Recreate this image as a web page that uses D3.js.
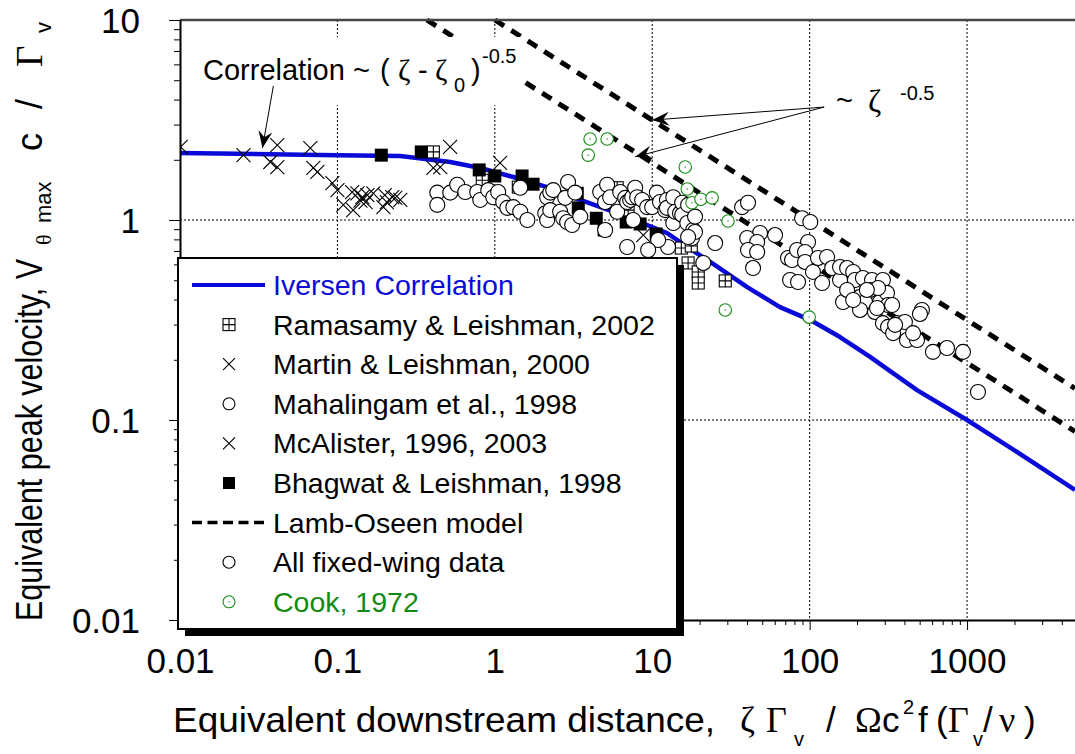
<!DOCTYPE html>
<html>
<head>
<meta charset="utf-8">
<script src="https://cdn.jsdelivr.net/npm/d3@7"></script>
<style>
body { margin: 0; background: #fff; }
svg { display: block; font-family: "Liberation Sans", Arial, sans-serif; }
.serif { font-family: "Liberation Serif", "Times New Roman", serif; }
</style>
</head>
<body>
<svg id="chart" width="1075" height="754"></svg>
<script>
// ---- data ----
var xTicks = [0.01, 0.1, 1, 10, 100, 1000];
var xTickLabels = ["0.01", "0.1", "1", "10", "100", "1000"];
var yTicks = [0.01, 0.1, 1, 10];
var yTickLabels = ["0.01", "0.1", "1", "10"];

// Iversen correlation (blue curve)
var iversenX = [0.01, 0.1, 0.251, 0.521, 0.808, 1.31, 2.15, 3.49, 5.65, 9.28, 12.4, 16.7, 24.4, 40.1, 64.8, 101, 156, 242, 481, 1000, 2075, 4845];
var iversenY = [2.16, 2.11, 2.09, 1.95, 1.82, 1.64, 1.46, 1.26, 1.10, 0.944, 0.861, 0.733, 0.603, 0.462, 0.367, 0.316, 0.260, 0.207, 0.141, 0.100, 0.0692, 0.0447];

// Lamb-Oseen model, two dashed lines
var lambUpperX = [1, 10, 100, 1000, 4845];
var lambUpperY = [10, 3.16, 1.0, 0.316, 0.144];
var lambLowerX = [0.37, 10, 100, 1000, 4845];
var lambLowerY = [10, 1.93, 0.61, 0.193, 0.0877];

var ramasamy = [[0.407, 2.19], [0.832, 1.58], [1.41, 1.46], [5.99, 1.45], [7.03, 1.12], [15.3, 0.724], [17.7, 0.741],
    [16.9, 0.61], [19.6, 0.55], [19.6, 0.484], [29.1, 0.496]];

var martin = [[0.0101, 2.32], [0.0253, 2.11], [0.0415, 2.37], [0.0375, 1.95], [0.0415, 1.84], [0.0673, 2.29], [0.0703, 1.82],
    [0.0746, 1.74], [0.0929, 1.53], [0.1, 1.41], [0.407, 1.82], [0.45, 1.84], [0.52, 2.32], [1.08, 1.93], [8.77, 0.841]];

var mcalister = [[0.109, 1.19], [0.126, 1.12], [0.124, 1.38], [0.134, 1.36], [0.144, 1.30], [0.155, 1.33], [0.151, 1.23],
    [0.169, 1.36], [0.196, 1.16], [0.206, 1.23], [0.223, 1.30], [0.233, 1.29], [0.251, 1.26], [0.14, 1.25], [0.2, 1.33]];

var bhagwat = [[0.19, 2.11], [0.341, 2.19], [0.796, 1.78], [1.0, 1.66], [1.49, 1.66], [1.75, 1.51], [3.34, 1.36], [3.39, 1.15],
    [4.41, 1.02], [4.95, 0.891], [6.83, 0.977], [8.38, 0.955], [10.6, 0.851]];

var mahalingam = [[0.431, 1.37], [0.431, 1.19], [0.521, 1.37], [0.577, 1.50], [0.649, 1.38], [0.773, 1.38], [0.808, 1.26],
    [0.908, 1.41], [0.977, 1.30], [1.05, 1.38], [1.13, 1.23], [1.20, 1.15], [1.31, 1.16], [1.45, 1.10], [1.61, 1.00], [1.45, 1.45],
    [2.09, 1.08], [2.15, 1.30], [2.15, 1.00], [2.25, 1.37], [2.25, 1.12], [2.35, 1.41], [2.60, 1.10], [2.72, 1.02], [2.80, 1.29],
    [2.92, 1.55], [2.88, 0.977], [3.10, 0.944], [3.24, 1.37], [3.49, 1.04], [4.67, 1.38], [5.02, 1.23], [5.17, 1.50], [5.02, 0.891],
    [5.40, 1.30], [5.99, 1.10], [6.26, 1.38], [6.73, 1.29], [6.93, 1.23], [7.24, 1.26], [7.46, 1.30], [7.79, 1.45], [7.57, 1.00],
    [8.02, 1.30], [8.63, 1.26], [9.28, 1.16], [9.99, 1.16], [10.7, 1.37], [11.2, 1.23], [12.1, 1.12], [12.4, 1.26], [12.4, 1.15],
    [13.6, 1.30], [13.6, 0.966], [14.0, 1.10], [15.0, 1.08], [15.5, 1.22], [15.5, 1.06], [16.7, 0.966], [16.9, 1.19], [18.2, 0.891],
    [18.7, 1.04], [17.9, 0.813], [18.7, 0.871], [16.9, 0.822], [12.6, 0.733], [10.9, 0.794], [9.42, 0.708], [6.93, 0.733],
    [21.1, 0.610], [25.1, 0.767]];

var fixedWing = [[37.2, 1.16], [40.6, 1.22], [48.4, 0.861], [40.1, 0.813], [46.4, 0.776], [40.6, 0.708], [46.4, 0.692],
    [60.3, 0.841], [43.7, 0.575], [89.5, 1.02], [101, 0.977], [97.7, 0.776], [72.9, 0.646], [77.3, 0.631], [83.2, 0.708],
    [93.5, 0.692], [93.5, 0.617], [75.1, 0.501], [84.4, 0.490], [105, 0.550], [113, 0.646], [129, 0.653], [120, 0.484],
    [139, 0.575], [156, 0.501], [156, 0.582], [173, 0.575], [189, 0.550], [194, 0.501], [163, 0.389], [173, 0.447], [218, 0.513],
    [249, 0.501], [292, 0.501], [242, 0.447], [209, 0.412], [225, 0.389], [280, 0.389], [310, 0.432], [315, 0.376], [209, 0.355],
    [260, 0.347], [292, 0.305], [315, 0.292], [359, 0.305], [403, 0.309], [339, 0.272], [415, 0.251], [481, 0.251], [454, 0.272],
    [517, 0.355], [502, 0.339], [607, 0.219], [746, 0.229], [942, 0.219], [1173, 0.138], [272, 0.457], [231, 0.447], [334, 0.376],
    [268, 0.363], [349, 0.299], [189, 0.398]];

var cook = [[4.03, 2.54], [5.17, 2.54], [3.92, 2.11], [16.2, 1.84], [16.7, 1.43], [17.9, 1.22], [20.4, 1.27], [24.0, 1.29],
    [30.3, 0.989], [29.1, 0.355], [99.3, 0.327]];

var legendLabels = ["Iversen Correlation", "Ramasamy & Leishman, 2002", "Martin & Leishman, 2000", "Mahalingam et al., 1998",
    "McAlister, 1996, 2003", "Bhagwat & Leishman, 1998", "Lamb-Oseen model", "All fixed-wing data", "Cook, 1972"];
var legendKinds = ["line", "hatch", "cross", "circle", "cross", "square", "dash", "circle", "green"];

// ---- layout ----
var width = 1075, height = 754;
var margin = {top: 20, right: 0, bottom: 134, left: 180};
var blue = "#0a0ad8", green = "#138a13";

var x = d3.scaleLog().domain([0.01, 4850]).range([margin.left, width - margin.right]);
var y = d3.scaleLog().domain([0.01, 10]).range([height - margin.bottom, margin.top]);

var svg = d3.select("#chart");
var defs = svg.append("defs");

defs.append("clipPath").attr("id", "plot-clip")
    .append("rect")
    .attr("x", margin.left).attr("y", margin.top - 2)
    .attr("width", width - margin.left).attr("height", height - margin.bottom - margin.top + 2);

defs.append("marker")
    .attr("id", "head")
    .attr("markerUnits", "userSpaceOnUse")
    .attr("viewBox", "-18 -8 20 16")
    .attr("markerWidth", 20).attr("markerHeight", 16)
    .attr("refX", 0).attr("refY", 0)
    .attr("orient", "auto")
    .append("path")
    .attr("d", "M0,0 L-17,-7 L-11,0 L-17,7 Z")
    .attr("fill", "#000");

var plot = svg.append("g").attr("clip-path", "url(#plot-clip)");

// dotted grid at each decade
var xGrid = xTicks.slice(1);
var yGrid = [0.1, 1];
plot.append("g").selectAll("line").data(xGrid).enter().append("line")
    .attr("x1", function(d) { return x(d); }).attr("x2", function(d) { return x(d); })
    .attr("y1", y(10)).attr("y2", y(0.01))
    .attr("stroke", "#000").attr("stroke-width", 1).attr("stroke-dasharray", "2,2");
plot.append("g").selectAll("line").data(yGrid).enter().append("line")
    .attr("x1", x(0.01)).attr("x2", width)
    .attr("y1", function(d) { return y(d); }).attr("y2", function(d) { return y(d); })
    .attr("stroke", "#000").attr("stroke-width", 1).attr("stroke-dasharray", "2,2");

var line = d3.line()
    .x(function(d) { return x(d[0]); })
    .y(function(d) { return y(d[1]); });

function zip(xs, ys) { return xs.map(function(v, i) { return [v, ys[i]]; }); }

// Lamb-Oseen dashed lines
[zip(lambUpperX, lambUpperY), zip(lambLowerX, lambLowerY)].forEach(function(pts) {
    plot.append("path").datum(pts)
        .attr("d", line)
        .attr("fill", "none").attr("stroke", "#000")
        .attr("stroke-width", 5).attr("stroke-dasharray", "11,8.5");
});

// Iversen correlation curve
plot.append("path").datum(zip(iversenX, iversenY))
    .attr("d", line)
    .attr("fill", "none").attr("stroke", blue).attr("stroke-width", 4.5)
    .attr("stroke-linejoin", "round");

// white box behind the correlation label
svg.append("rect").attr("x", 198).attr("y", 37).attr("width", 322).attr("height", 68).attr("fill", "#fff");

// ---- symbols ----
function drawSymbol(g, kind, s) {
    var h = s / 2;
    if (kind === "circle") {
        g.append("circle").attr("r", h).attr("fill", "#fff").attr("stroke", "#000").attr("stroke-width", 1.1);
    } else if (kind === "green") {
        g.append("circle").attr("r", h).attr("fill", "#fff").attr("stroke", green).attr("stroke-width", 1.1);
        g.append("circle").attr("r", 0.7).attr("fill", green);
    } else if (kind === "cross") {
        g.append("path").attr("d", "M" + (-h) + "," + (-h) + "L" + h + "," + h + "M" + (-h) + "," + h + "L" + h + "," + (-h))
            .attr("stroke", "#000").attr("stroke-width", 1.1);
    } else if (kind === "square") {
        g.append("rect").attr("x", -h).attr("y", -h).attr("width", s).attr("height", s).attr("fill", "#000");
    } else if (kind === "hatch") {
        g.append("rect").attr("x", -h).attr("y", -h).attr("width", s).attr("height", s)
            .attr("fill", "#fff").attr("stroke", "#000").attr("stroke-width", 1.1);
        g.append("path").attr("d", "M0," + (-h) + "V" + h + "M" + (-h) + ",0H" + h)
            .attr("stroke", "#000").attr("stroke-width", 1.1);
    }
}

function scatter(data, kind, s) {
    var g = plot.append("g").selectAll("g").data(data).enter().append("g")
        .attr("transform", function(d) { return "translate(" + x(d[0]) + "," + y(d[1]) + ")"; });
    drawSymbol(g, kind, s);
}

scatter(martin, "cross", 14);
scatter(mcalister, "cross", 14);
scatter(ramasamy, "hatch", 12);
scatter(bhagwat, "square", 13);
scatter(mahalingam, "circle", 15);
scatter(fixedWing, "circle", 15);
scatter(cook, "green", 12.5);

// ---- axes ----
svg.append("line")
    .attr("x1", x(0.01)).attr("x2", width).attr("y1", y(10)).attr("y2", y(10))
    .attr("stroke", "#444").attr("stroke-width", 2.5);

function minorTicks(maxV) {
    var out = [];
    [0.01, 0.1, 1, 10, 100, 1000].forEach(function(d) {
        for (var k = 2; k <= 9; k++) { if (k * d <= maxV) out.push(k * d); }
    });
    return out;
}

var tickFont = "'Liberation Sans', Arial, sans-serif";

var xAxisMinor = svg.append("g").attr("transform", "translate(0," + y(0.01) + ")")
    .call(d3.axisBottom(x).tickValues(minorTicks(4850)).tickSize(5).tickFormat(""));
xAxisMinor.select(".domain").remove();
var xAxis = svg.append("g").attr("transform", "translate(0," + y(0.01) + ")")
    .call(d3.axisBottom(x).tickValues(xTicks).tickSize(10).tickSizeOuter(0)
        .tickFormat(function(d, i) { return xTickLabels[i]; }));
xAxis.select(".domain").attr("stroke-width", 2);
xAxis.selectAll("text").attr("y", 53).attr("dy", 0)
    .style("font-size", "35px").style("font-family", tickFont).attr("fill", "#000");

var yAxisMinor = svg.append("g").attr("transform", "translate(" + x(0.01) + ",0)")
    .call(d3.axisLeft(y).tickValues(minorTicks(9)).tickSize(6).tickFormat(""));
yAxisMinor.select(".domain").remove();
var yAxis = svg.append("g").attr("transform", "translate(" + x(0.01) + ",0)")
    .call(d3.axisLeft(y).tickValues(yTicks).tickSize(11).tickSizeOuter(0)
        .tickFormat(function(d, i) { return yTickLabels[i]; }));
yAxis.select(".domain").attr("stroke-width", 2);
yAxis.selectAll("text").attr("x", -40).attr("dy", "0.36em")
    .style("font-size", "35px").style("font-family", tickFont).attr("fill", "#000");

// ---- axis titles ----
var xt = svg.append("text").style("font-size", "35px");
function part(t, txt, px, py, size, serif) {
    var s = t.append("tspan").attr("x", px).attr("y", py).text(txt);
    if (size) s.style("font-size", size + "px");
    if (serif) s.attr("class", "serif");
    return s;
}
part(xt, "Equivalent downstream distance,", 173, 732).attr("textLength", 542).attr("lengthAdjust", "spacingAndGlyphs");
part(xt, "\u03B6", 740, 732, 36, true);
part(xt, "\u0393", 766, 732, 36, true);
part(xt, "v", 794, 746, 20);
part(xt, "/", 826, 732);
part(xt, "\u03A9", 855, 732, 36, true);
part(xt, "c", 882, 732);
part(xt, "2", 903, 714, 20);
part(xt, "f", 918, 732);
part(xt, "(", 936, 732);
part(xt, "\u0393", 948, 732, 36, true);
part(xt, "v", 973, 746, 20);
part(xt, "/", 983, 732);
part(xt, "\u03BD", 999, 732, 36, true);
part(xt, ")", 1024, 732);

// rotated y title: x runs upward from the bottom of the plot
var yt = svg.append("text").attr("transform", "translate(42,621) rotate(-90)").style("font-size", "36px");
part(yt, "Equivalent peak velocity, V", 0, 0).attr("textLength", 362).attr("lengthAdjust", "spacingAndGlyphs");
part(yt, "\u03B8", 376, 9, 22, true);
part(yt, "max", 398, 9, 22);
part(yt, "c", 470, 0);
part(yt, "/", 512, 0);
part(yt, "\u0393", 554, 0, 37, true);
part(yt, "v", 588, 9, 22);

// ---- annotations ----
var corr = svg.append("text").style("font-size", "29px");
part(corr, "Correlation ~", 203, 80);
part(corr, "(", 380, 80);
part(corr, "\u03B6", 398, 80, 30, true);
part(corr, "-", 418, 80);
part(corr, "\u03B6", 435, 80, 30, true);
part(corr, "0", 454, 92, 20);
part(corr, ")", 471, 80);
part(corr, "-0.5", 482, 63, 20);

svg.append("line")
    .attr("x1", x(0.0392)).attr("y1", y(4.68)).attr("x2", x(0.0334)).attr("y2", y(2.29))
    .attr("stroke", "#000").attr("stroke-width", 1).attr("marker-end", "url(#head)");

var zeta = svg.append("text").style("font-size", "29px");
part(zeta, "~", 836, 110);
part(zeta, "\u03B6", 868, 112, 32, true);
part(zeta, "-0.5", 900, 100, 20);

[[10, 3.16], [7.8, 2.07]].forEach(function(p) {
    svg.append("line")
        .attr("x1", x(123.6)).attr("y1", y(3.67)).attr("x2", x(p[0])).attr("y2", y(p[1]))
        .attr("stroke", "#000").attr("stroke-width", 1).attr("marker-end", "url(#head)");
});

// ---- legend ----
var lg = svg.append("g").attr("transform", "translate(178,258)");
lg.append("rect").attr("x", 7).attr("y", 7).attr("width", 499).attr("height", 371).attr("fill", "#000");
lg.append("rect").attr("x", 0).attr("y", 0).attr("width", 499).attr("height", 371)
    .attr("fill", "#fff").attr("stroke", "#000").attr("stroke-width", 2);

var rows = lg.selectAll("g.row").data(legendLabels).enter().append("g")
    .attr("class", "row")
    .attr("transform", function(d, i) { return "translate(0," + (37 + i * 39.6) + ")"; });

rows.append("text").attr("x", 95).attr("y", 0).style("font-size", "28.5px")
    .attr("fill", function(d, i) { return i === 0 ? blue : (i === 8 ? green : "#000"); })
    .text(function(d) { return d; });

rows.each(function(d, i) {
    var kind = legendKinds[i];
    var r = d3.select(this);
    if (kind === "line" || kind === "dash") {
        r.append("line").attr("x1", 14).attr("x2", 87).attr("y1", -10).attr("y2", -10)
            .attr("stroke", kind === "line" ? blue : "#000")
            .attr("stroke-width", kind === "line" ? 4 : 3.5)
            .attr("stroke-dasharray", kind === "dash" ? "10,5.5" : null);
    } else {
        var g = r.append("g").attr("transform", "translate(51,-10)");
        drawSymbol(g, kind, 12);
    }
});
</script>
</body>
</html>
